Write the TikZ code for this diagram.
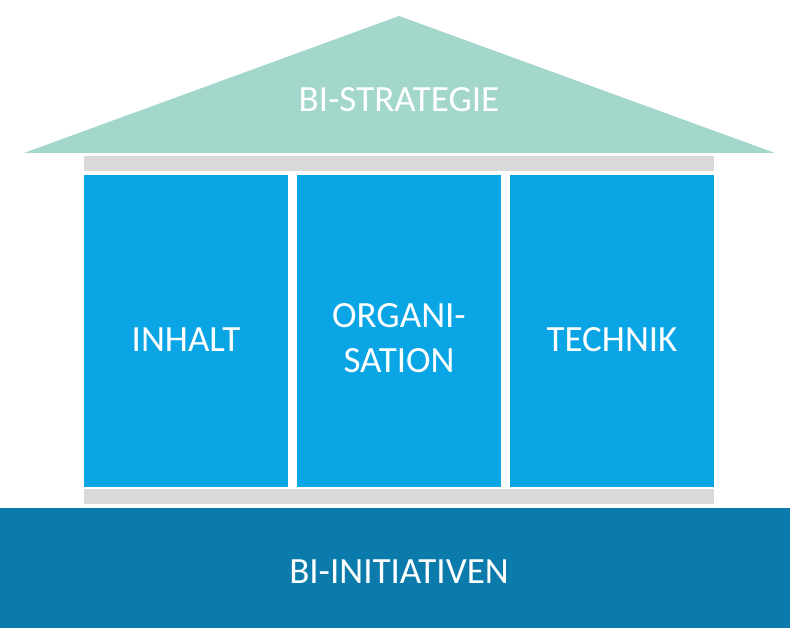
\documentclass[tikz,border=0pt]{standalone}
\usepackage{fontspec}
\setmainfont{Carlito}
\definecolor{roofc}{HTML}{A3D7CC}
\definecolor{barc}{HTML}{D9D9D9}
\definecolor{pillarc}{HTML}{0AA5E5}
\definecolor{basec}{HTML}{0A7BAA}
\begin{document}
\begin{tikzpicture}[x=1pt,y=-1pt,
  lbl/.style={text=white,font=\fontsize{37}{45}\selectfont,align=center,inner sep=0pt},
  blk/.style={inner sep=0pt,outer sep=0pt,draw=none}]
\useasboundingbox (0,0) rectangle (790,628);
\fill[white] (0,0) rectangle (790,628);
% roof
\fill[roofc] (24,153) -- (399,16) -- (775,153) -- cycle;
% grey bars
\fill[barc] (84,156) rectangle (714,171);
\fill[barc] (84,489) rectangle (714,504);
% pillars
\fill[pillarc] (84,175) rectangle (288,487);
\fill[pillarc] (297,175) rectangle (501,487);
\fill[pillarc] (510,175) rectangle (714,487);
% base
\fill[basec] (0,508) rectangle (790,628);
% labels
\node[lbl,anchor=base] (strategie) at (399,112) {BI-STRATEGIE};
\node[lbl,anchor=base] (inhalt) at (186,352) {INHALT};
\node[lbl,anchor=base] (orga1) at (399,327) {ORGANI-};
\node[lbl,anchor=base] (orga2) at (399,372) {SATION};
\node[lbl,anchor=base] (technik) at (612,352) {TECHNIK};
\node[lbl,anchor=base] (initiativen) at (399,583) {BI-INITIATIVEN};
\end{tikzpicture}
\end{document}
